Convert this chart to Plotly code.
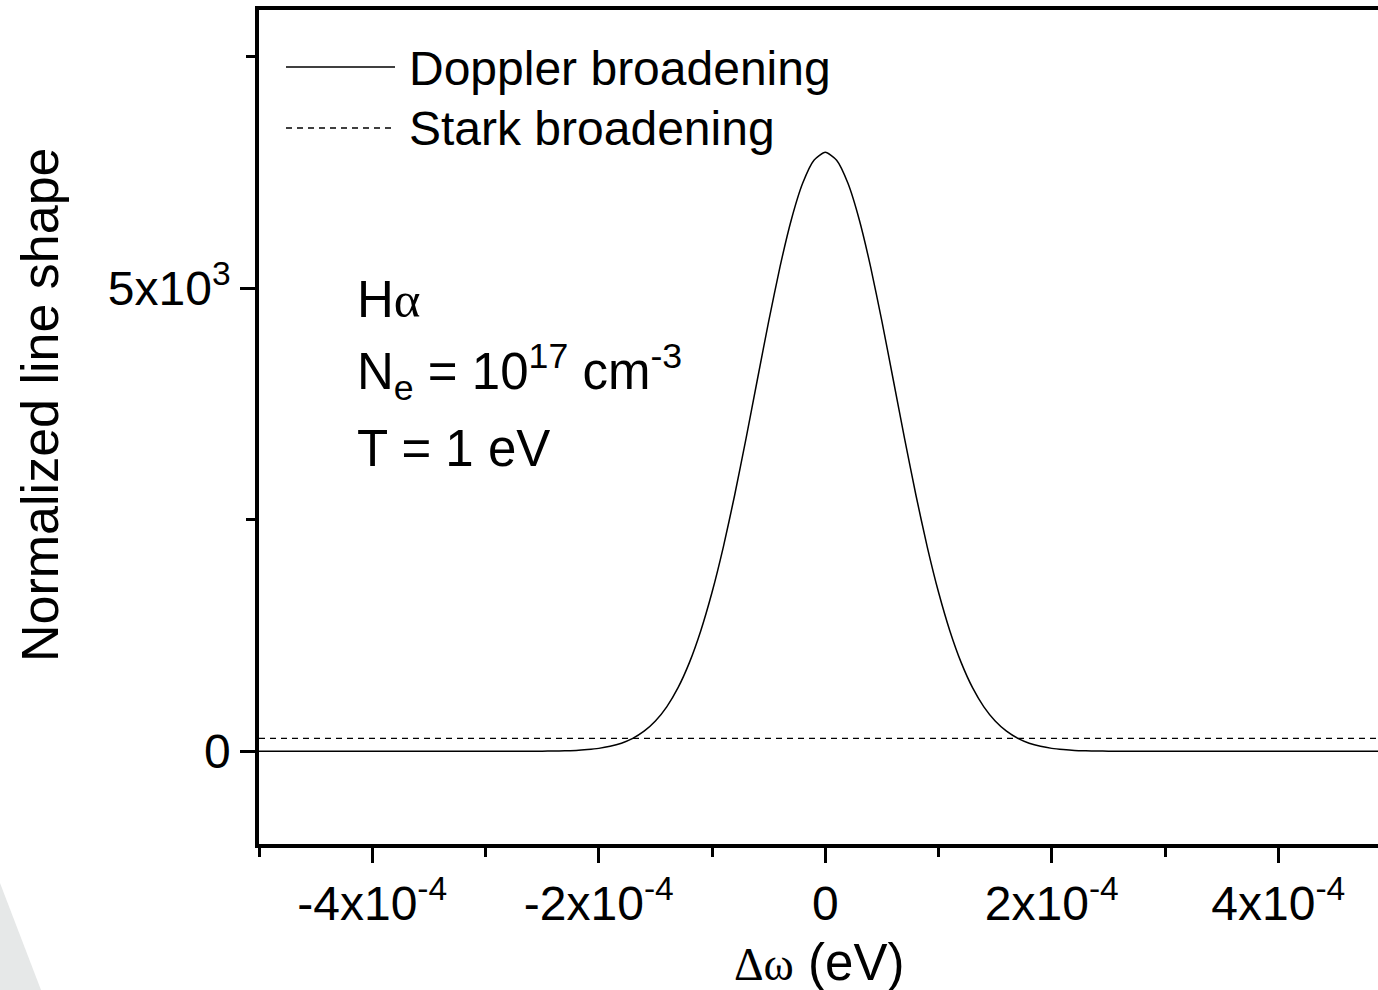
import plotly.graph_objects as go

# Data
dw_doppler = [-5.0e-4, -4.0e-4, -3.2e-4, -2.8e-4, -2.6e-4, -2.5e-4, -2.4e-4, -2.3e-4, -2.2e-4, -2.1e-4,
              -2.0e-4, -1.9e-4, -1.8e-4, -1.7e-4, -1.6e-4, -1.5e-4, -1.4e-4, -1.3e-4, -1.2e-4,
              -1.1e-4, -1.0e-4, -0.9e-4, -0.8e-4, -0.7e-4, -0.6e-4, -0.5e-4, -0.4e-4, -0.3e-4,
              -0.2e-4, -0.1e-4, 0.0, 0.1e-4, 0.2e-4, 0.3e-4, 0.4e-4, 0.5e-4, 0.6e-4, 0.7e-4,
              0.8e-4, 0.9e-4, 1.0e-4, 1.1e-4, 1.2e-4, 1.3e-4, 1.4e-4, 1.5e-4, 1.6e-4, 1.7e-4,
              1.8e-4, 1.9e-4, 2.0e-4, 2.1e-4, 2.2e-4, 2.3e-4, 2.4e-4, 2.5e-4, 2.6e-4, 2.8e-4,
              3.2e-4, 4.0e-4, 5.0e-4]
doppler = [0, 0, 0, 0, 1, 2, 3, 6, 10, 19,
           32, 54, 88, 140, 217, 327, 480, 687, 957,
           1299, 1716, 2207, 2766, 3375, 4010, 4640, 5228, 5737,
           6130, 6379, 6464, 6379, 6130, 5737, 5228, 4640, 4010, 3375,
           2766, 2207, 1716, 1299, 957, 687, 480, 327, 217, 140,
           88, 54, 32, 19, 10, 6, 3, 2, 1, 0,
           0, 0, 0]

dw_stark = [-5.0e-4, -4.0e-4, -3.0e-4, -2.0e-4, -1.0e-4, 0.0, 1.0e-4, 2.0e-4, 3.0e-4, 4.0e-4, 5.0e-4]
stark = [140, 140, 140, 140, 140, 140, 140, 140, 140, 140, 140]

x_major = [-4e-4, -2e-4, 0, 2e-4, 4e-4]
x_major_text = ["-4x10<sup>-4</sup>", "-2x10<sup>-4</sup>", "0", "2x10<sup>-4</sup>", "4x10<sup>-4</sup>"]
x_minor = [-5e-4, -3e-4, -1e-4, 1e-4, 3e-4, 5e-4]
y_major = [0, 5000]
y_major_text = ["0", "5x10<sup>3</sup>"]
y_minor = [2500, 7500]

FONT = "Liberation Sans, Arial, sans-serif"
SERIF = "Liberation Serif, Times New Roman, serif"

W, H = 1378, 990
L, R, T, B = 259, 0, 10, 146
PW, PH = W - L - R, H - T - B


def px(xp):
    return (xp - L) / PW


def py(yp):
    return (H - B - yp) / PH


fig = go.Figure()
fig.add_trace(go.Scatter(x=dw_doppler, y=doppler, mode="lines", name="Doppler broadening",
                         line=dict(color="black", width=1.5, shape="spline", smoothing=0.6),
                         showlegend=False))
fig.add_trace(go.Scatter(x=dw_stark, y=stark, mode="lines", name="Stark broadening",
                         line=dict(color="black", width=1.3, dash="6px,5px"),
                         showlegend=False))

fig.update_xaxes(range=[-5e-4, 4.88e-4], showgrid=False, zeroline=False,
                 showline=True, linecolor="black", linewidth=3.5, mirror=True,
                 ticks="outside", ticklen=15, tickwidth=3, tickcolor="black",
                 tickmode="array", tickvals=x_major, ticktext=x_major_text,
                 tickfont=dict(family=FONT, size=48, color="black"),
                 minor=dict(tickmode="array", tickvals=x_minor, ticks="outside",
                            ticklen=9, tickwidth=3, tickcolor="black"))
fig.update_yaxes(range=[-1000, 8000], showgrid=False, zeroline=False,
                 showline=True, linecolor="black", linewidth=3.5, mirror=False,
                 ticks="outside", ticklen=15, tickwidth=3, tickcolor="black",
                 tickmode="array", tickvals=y_major, ticktext=y_major_text,
                 tickfont=dict(family=FONT, size=48, color="black"),
                 minor=dict(tickmode="array", tickvals=y_minor, ticks="outside",
                            ticklen=9, tickwidth=3, tickcolor="black"))

shapes = [
    # light grey corner decoration
    dict(type="path", xref="paper", yref="paper",
         path=f"M {px(0)} {py(883)} L {px(41)} {py(990)} L {px(0)} {py(990)} Z",
         fillcolor="#e6e8e8", line=dict(width=0), layer="below"),
    # legend samples
    dict(type="line", xref="paper", yref="paper", x0=px(286), x1=px(395), y0=py(67), y1=py(67),
         line=dict(color="black", width=1.5)),
    dict(type="line", xref="paper", yref="paper", x0=px(286), x1=px(395), y0=py(128), y1=py(128),
         line=dict(color="black", width=1.3, dash="6px,5px")),
]

big = dict(family=FONT, size=51, color="black")
annotations = [
    dict(text="Doppler broadening", x=px(407), y=py(68), xanchor="left", yanchor="middle",
         font=dict(family=FONT, size=48, color="black")),
    dict(text="Stark broadening", x=px(407), y=py(128), xanchor="left", yanchor="middle",
         font=dict(family=FONT, size=48, color="black")),
    dict(text=f"H<span style='font-family:{SERIF}'>α</span>", x=px(355), y=py(300),
         xanchor="left", yanchor="middle", font=big),
    dict(text="N<sub>e</sub> = 10<sup>17</sup> cm<sup>-3</sup>", x=px(355), y=py(372),
         xanchor="left", yanchor="middle", font=big),
    dict(text="T = 1 eV", x=px(355), y=py(448), xanchor="left", yanchor="middle", font=big),
    dict(text="Normalized line shape", x=px(40), y=py(405), textangle=-90,
         xanchor="center", yanchor="middle", font=dict(family=FONT, size=52, color="black")),
    dict(text=f"<span style='font-family:{SERIF};font-size:46px'>Δω</span> (eV)", x=px(819), y=py(962),
         xanchor="center", yanchor="middle", font=dict(family=FONT, size=51, color="black")),
]
for a in annotations:
    a.update(xref="paper", yref="paper", showarrow=False)

fig.update_layout(width=W, height=H, margin=dict(l=L, r=R, t=T, b=B, autoexpand=False),
                  paper_bgcolor="white", plot_bgcolor="white",
                  shapes=shapes, annotations=annotations, showlegend=False)

fig.write_html("out.html")
